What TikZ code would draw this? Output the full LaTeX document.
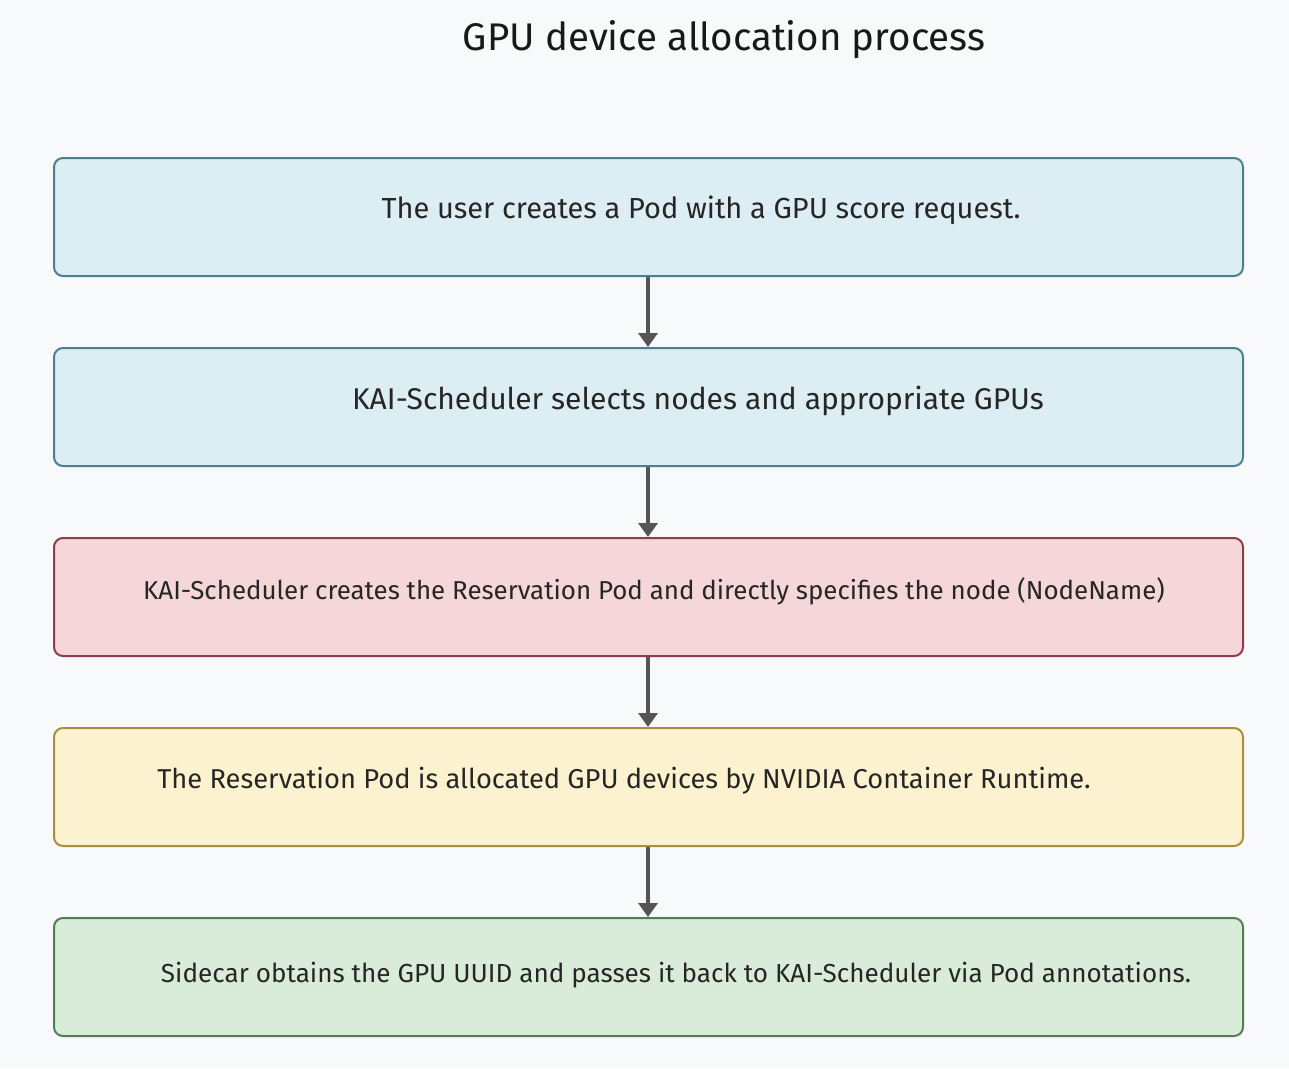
\documentclass[tikz,border=0pt]{standalone}
\usepackage{fontspec}
\setmainfont{Fira Sans}
\usetikzlibrary{arrows.meta}
\definecolor{bg}{HTML}{F8F9FA}
\definecolor{bluef}{HTML}{DCEEF3}\definecolor{blued}{HTML}{4E7F8E}
\definecolor{redf}{HTML}{F5D7DA}\definecolor{redd}{HTML}{8E3E4A}
\definecolor{yelf}{HTML}{FDF2D0}\definecolor{yeld}{HTML}{A88F3E}
\definecolor{grnf}{HTML}{D9ECD9}\definecolor{grnd}{HTML}{4F7F52}
\definecolor{arr}{HTML}{555555}
\begin{document}
\begin{tikzpicture}[x=1pt,y=-1pt,
 box/.style={draw, line width=2pt, rounded corners=9pt, minimum width=1189pt, minimum height=118pt, anchor=north west},
 txt/.style={text=black!85},
 ar/.style={draw=arr, line width=3.5pt, -{Triangle[length=14pt,width=19pt]}}]
\fill[bg] (0,0) rectangle (1289,1068);
\useasboundingbox (0,0) rectangle (1289,1068);
\node[font=\fontsize{38.5}{44}\selectfont, text=black!90] (title) at (724,40) {GPU device allocation process};
\node[box, fill=bluef, draw=blued] (b1) at (53,157) {};
\node[box, fill=bluef, draw=blued] (b2) at (53,347) {};
\node[box, fill=redf, draw=redd] (b3) at (53,537) {};
\node[box, fill=yelf, draw=yeld] (b4) at (53,727) {};
\node[box, fill=grnf, draw=grnd] (b5) at (53,917) {};
\node[txt, font=\fontsize{29}{34}\selectfont] (t1) at (701,210) {The user creates a Pod with a GPU score request.};
\node[txt, font=\fontsize{30}{36}\selectfont] (t2) at (698,401) {KAI-Scheduler selects nodes and appropriate GPUs};
\node[txt, font=\fontsize{25.9}{30}\selectfont] (t3) at (654,591) {KAI-Scheduler creates the Reservation Pod and directly specifies the node (NodeName)};
\node[txt, font=\fontsize{27.3}{32}\selectfont] (t4) at (624,781) {The Reservation Pod is allocated GPU devices by NVIDIA Container Runtime.};
\node[txt, font=\fontsize{26.1}{30}\selectfont] (t5) at (676,975) {Sidecar obtains the GPU UUID and passes it back to KAI-Scheduler via Pod annotations.};
\draw[ar] (b1.south -| 648,0) -- (b2.north -| 648,0);
\draw[ar] (b2.south -| 648,0) -- (b3.north -| 648,0);
\draw[ar] (b3.south -| 648,0) -- (b4.north -| 648,0);
\draw[ar] (b4.south -| 648,0) -- (b5.north -| 648,0);
\end{tikzpicture}
\end{document}
